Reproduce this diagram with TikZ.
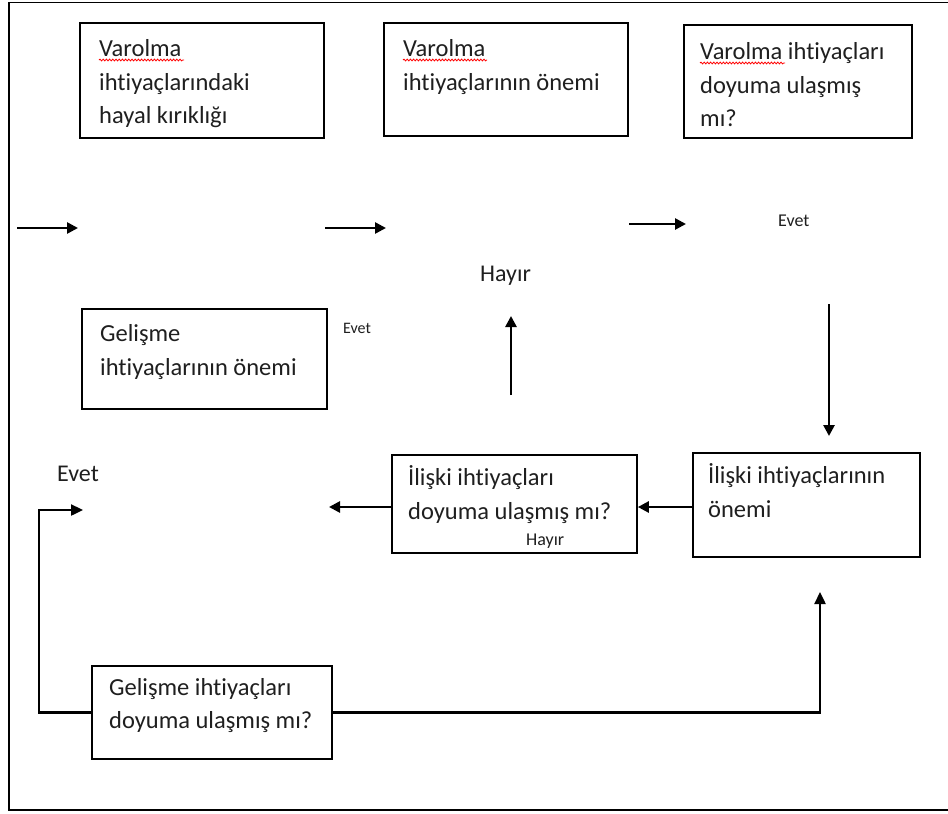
\documentclass[tikz,border=0pt]{standalone}
\usepackage{fontspec}
\setmainfont{Carlito}[Ligatures=NoCommon]
\usetikzlibrary{arrows.meta,decorations.pathmorphing}
\begin{document}
\begin{tikzpicture}[x=1pt,y=-1pt,
  box/.style={draw, line width=1.7pt, inner sep=0pt},
  txt/.style={anchor=north west, align=left, inner sep=0pt, text=black!88,
    font=\fontsize{24.5}{33.5}\selectfont},
  big/.style={anchor=base west, inner sep=0pt, text=black!88,
    font=\fontsize{24}{28}\selectfont},
  small/.style={anchor=base west, inner sep=0pt, text=black!88,
    font=\fontsize{18}{22}\selectfont},
  arr/.style={line width=2.6pt, -{Triangle[length=11pt,width=11pt]}},
  link/.style={line width=2.4pt, -{Triangle[length=12pt,width=11pt]}},
  spell/.style={red, line width=0.8pt,
    decorate, decoration={snake, amplitude=0.9pt, segment length=3.2pt}}]

% page and frame
\clip (0,0) rectangle (948,814);
\fill[white] (0,0) rectangle (948,814);
\draw[line width=1.6pt] (9,2.5) rectangle (960,810);

% boxes
\node[box, minimum width=244pt, minimum height=115pt] (b1) at (202,80.5) {};
\node[box, minimum width=244pt, minimum height=113pt] (b2) at (506,79.5) {};
\node[box, minimum width=228pt, minimum height=113pt] (b3) at (798,81.5) {};
\node[box, minimum width=245pt, minimum height=100pt] (b4) at (204.5,359) {};
\node[box, minimum width=245pt, minimum height=98pt] (b5) at (514.5,504) {};
\node[box, minimum width=227pt, minimum height=104pt] (b6) at (806.5,505) {};
\node[box, minimum width=240pt, minimum height=93pt] (b7) at (212,712.5) {};

% box texts
\node[txt] (t1) at (99,39.5) {Varolma\\ihtiyaçlarındaki\\hayal kırıklığı};
\node[txt] (t2) at (403,39.5) {Varolma\\ihtiyaçlarının önemi};
\node[txt] (t3) at (700,42.5) {Varolma ihtiyaçları\\doyuma ulaşmış\\mı?};
\node[txt] (t4) at (100,324.5) {Gelişme\\ihtiyaçlarının önemi};
\node[txt] (t5) at (408,465.5) {İlişki ihtiyaçları\\doyuma ulaşmış mı?};
\node[txt] (t6) at (708,463.5) {İlişki ihtiyaçlarının\\önemi};
\node[txt] (t7) at (109,678) {Gelişme ihtiyaçları\\doyuma ulaşmış mı?};

% spell-check marks under "Varolma"
\draw[spell] (99,60) -- (184,60);
\draw[spell] (403,60) -- (487,60);
\draw[spell] (700,63) -- (785,63);

% free labels
\node[small] (e1) at (778,226) {Evet};
\node[big] (h1) at (480,281.5) {Hayır};
\node[small, font=\fontsize{16}{20}\selectfont] (e2) at (343,333) {Evet};
\node[big] (e3) at (57,481) {Evet};
\node[small] (h2) at (526,545) {Hayır};

% free arrow ends
\coordinate (p1) at (17,228);  \coordinate (q1) at (78,228);
\coordinate (p2) at (325,228); \coordinate (q2) at (386,228);
\coordinate (p3) at (629,224); \coordinate (q3) at (686,224);
\coordinate (p4) at (511,395); \coordinate (q4) at (511,316);
\coordinate (p5) at (829,304); \coordinate (q5) at (829,436);
\coordinate (q6) at (329,507);
\coordinate (k1) at (39,510);  \coordinate (k2) at (83,510);
\coordinate (k3) at (820,592);

% arrows
\draw[arr] (p1) -- (q1);
\draw[arr] (p2) -- (q2);
\draw[arr] (p3) -- (q3);
\draw[arr] (p4) -- (q4);
\draw[arr] (p5) -- (q5);
\draw[arr] (b6.west |- q6) -- (b5.east |- q6);
\draw[arr] (b5.west |- q6) -- (q6);
\draw[link] (b7.west) -| (k1) -- (k2);
\draw[link] (b7.east) -| (k3);
\end{tikzpicture}
\end{document}
